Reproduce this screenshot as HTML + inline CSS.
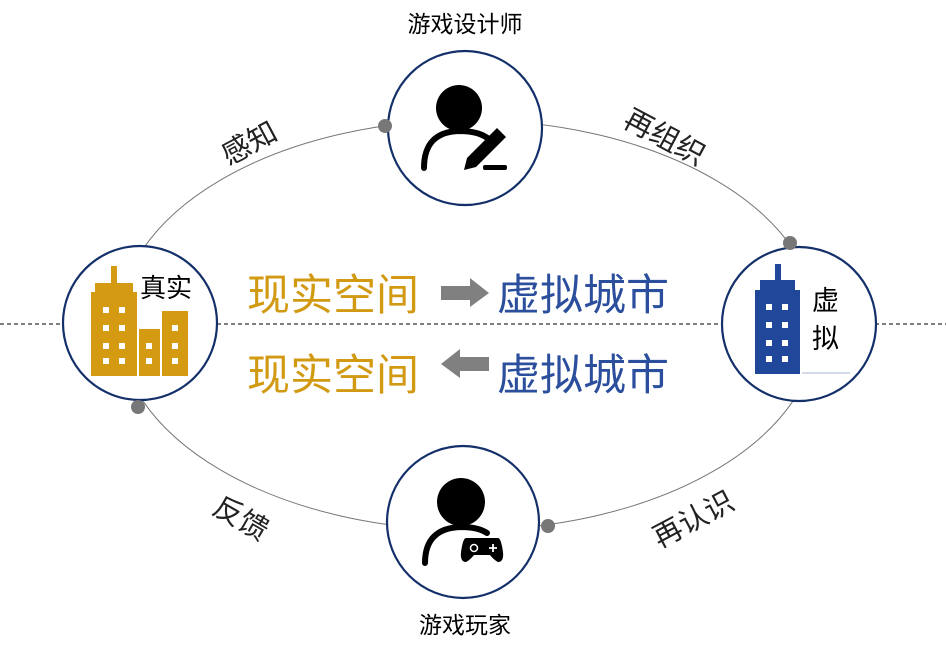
<!DOCTYPE html>
<html><head><meta charset="utf-8"><style>
html,body{margin:0;padding:0;background:#fff;width:946px;height:648px;overflow:hidden}
svg{display:block}
text{font-family:"Liberation Sans","Noto Sans CJK SC",sans-serif}
</style></head><body>
<svg width="946" height="648" viewBox="0 0 946 648" xmlns="http://www.w3.org/2000/svg">
<line x1="0" y1="324" x2="946" y2="324" stroke="#333" stroke-width="1.2" stroke-dasharray="4,3"/>
<ellipse cx="468" cy="325" rx="350" ry="205" fill="none" stroke="#777" stroke-width="1"/>
<g fill="#fff" stroke="#14306a" stroke-width="2.2">
<circle cx="465" cy="128" r="77"/>
<circle cx="140" cy="323" r="77"/>
<circle cx="799" cy="324" r="77"/>
<circle cx="463" cy="522" r="76"/>
</g>
<g fill="#777">
<circle cx="385" cy="126" r="7"/>
<circle cx="790" cy="243" r="7"/>
<circle cx="138" cy="407" r="7"/>
<circle cx="548" cy="526" r="7"/>
</g>
<circle cx="459" cy="108" r="23" fill="#000"/>
<path d="M424 168 Q424 132 459 131 Q480 131 490 140" fill="none" stroke="#000" stroke-width="6" stroke-linecap="round"/>
<path d="M497 128 L506 137 L476 167 L464 170 L467 158 Z" fill="#000"/>
<rect x="483" y="165" width="24" height="5" rx="2" fill="#000"/>
<circle cx="461" cy="502" r="24" fill="#000"/>
<path d="M425 563 Q425 528 461 527 Q478 527 487 533" fill="none" stroke="#000" stroke-width="6" stroke-linecap="round"/>
<path d="M466 538 Q463 538 461 552 Q460 562 466 562 Q470 560 474 555 L490 555 Q494 560 498 562 Q504 562 503 552 Q501 538 498 538 Z" fill="#000"/>
<circle cx="474" cy="548" r="3.5" fill="none" stroke="#fff" stroke-width="1.5"/>
<path d="M489 548 h8 M493 544 v8" stroke="#fff" stroke-width="1.8"/>
<g fill="#d49b12">
<rect x="91" y="292" width="46" height="84"/>
<rect x="95" y="283" width="38" height="10"/>
<rect x="111" y="266" width="6" height="18"/>
<rect x="139" y="329" width="21" height="47"/>
<rect x="162" y="311" width="26" height="65"/>
</g>
<g fill="#fff">
<rect x="103" y="307" width="6" height="6"/><rect x="119" y="307" width="6" height="6"/>
<rect x="103" y="325" width="6" height="6"/><rect x="119" y="325" width="6" height="6"/>
<rect x="103" y="343" width="6" height="6"/><rect x="119" y="343" width="6" height="6"/>
<rect x="103" y="358" width="6" height="6"/><rect x="119" y="358" width="6" height="6"/>
<rect x="146" y="343" width="6" height="6"/><rect x="146" y="358" width="6" height="6"/>
<rect x="172" y="325" width="6" height="6"/><rect x="172" y="343" width="6" height="6"/><rect x="172" y="358" width="6" height="6"/>
</g>
<text x="140" y="297" font-size="26" fill="#000">真实</text>
<g fill="#21479a">
<rect x="755" y="290" width="45" height="84"/>
<rect x="760" y="280" width="35" height="12"/>
<rect x="775" y="264" width="6" height="18"/>
</g>
<g fill="#fff">
<rect x="766" y="304" width="6" height="6"/><rect x="782" y="304" width="6" height="6"/>
<rect x="766" y="322" width="6" height="6"/><rect x="782" y="322" width="6" height="6"/>
<rect x="766" y="340" width="6" height="6"/><rect x="782" y="340" width="6" height="6"/>
<rect x="766" y="356" width="6" height="6"/><rect x="782" y="356" width="6" height="6"/>
</g>
<line x1="802" y1="373" x2="850" y2="373" stroke="#a9b6d0" stroke-width="1"/>
<text x="812" y="310" font-size="27" fill="#000">虚</text>
<text x="812" y="348" font-size="27" fill="#000">拟</text>
<g font-size="43">
<text x="247" y="310" fill="#d19a12">现实空间</text>
<text x="497" y="310" fill="#2b4e9d">虚拟城市</text>
<text x="247" y="390" fill="#d19a12">现实空间</text>
<text x="497" y="390" fill="#2b4e9d">虚拟城市</text>
</g>
<path d="M441 286 H470 V278 L489 293 L470 307 V300 H441 Z" fill="#808080"/>
<path d="M489 357 H460 V349 L441 364 L460 378 V371 H489 Z" fill="#808080"/>
<text x="465" y="32" font-size="23" fill="#000" text-anchor="middle">游戏设计师</text>
<text x="465" y="633" font-size="23" fill="#000" text-anchor="middle">游戏玩家</text>
<g font-size="29" fill="#222" text-anchor="middle">
<text transform="translate(254,152) rotate(-28)">感知</text>
<text transform="translate(660,146) rotate(28)">再组织</text>
<text transform="translate(236,527) rotate(30)">反馈</text>
<text transform="translate(698,528) rotate(-28)">再认识</text>
</g>
</svg>
</body></html>
